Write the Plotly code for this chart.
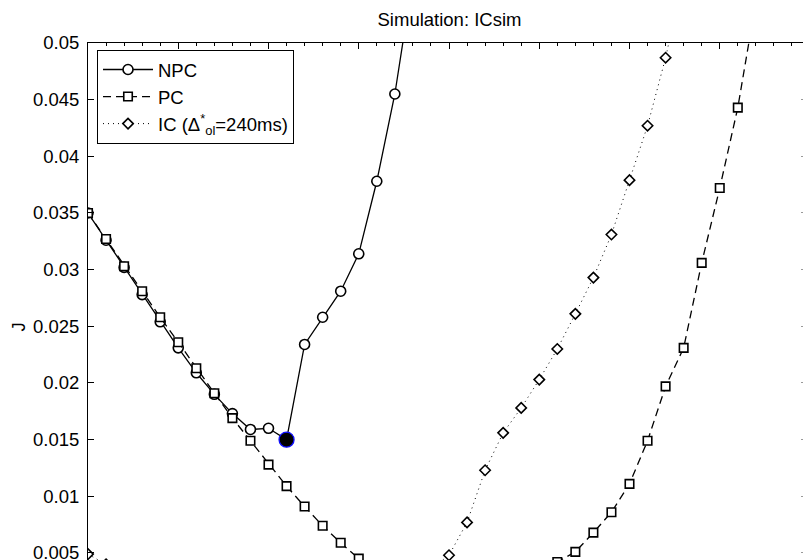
import plotly.graph_objects as go

# x positions (ms), step 20
NPC_J = [0.0350, 0.0326, 0.0302, 0.0278, 0.0254, 0.0231, 0.0209, 0.0190, 0.0173, 0.0159,
         0.0160, 0.0150, 0.0234, 0.0258, 0.0281, 0.0314, 0.0378, 0.0455, 0.0562, 0.0660]
PC_J = [0.0350, 0.0327, 0.0303, 0.0281, 0.0258, 0.0236, 0.0213, 0.0191, 0.0169, 0.0149,
        0.0128, 0.0109, 0.0091, 0.0074, 0.0059, 0.0045, 0.0035, 0.0028, 0.0023, 0.0019,
        0.0017, 0.0016, 0.0017, 0.0020, 0.0025, 0.0033, 0.0042, 0.0051, 0.0068, 0.0086,
        0.0111, 0.0149, 0.0197, 0.0231, 0.0306, 0.0372, 0.0443, 0.0533, 0.0630]
IC_J = [0.0049, 0.0040, 0.0033, 0.0029, 0.0026, 0.0024, 0.0022, 0.0021, 0.0020, 0.0019,
        0.0019, 0.0019, 0.0020, 0.0021, 0.0022, 0.0024, 0.0026, 0.0029, 0.0032, 0.0036,
        0.0048, 0.0077, 0.0123, 0.0156, 0.0178, 0.0203, 0.0230, 0.0261, 0.0293, 0.0331,
        0.0379, 0.0427, 0.0487, 0.0560]
STEP = 20
NPC_X = [i * STEP for i in range(len(NPC_J))]
PC_X = [i * STEP for i in range(len(PC_J))]
IC_X = [i * STEP for i in range(len(IC_J))]
BEST_IDX = 11  # highlighted NPC point

Y_TICKS = [0.05, 0.045, 0.04, 0.035, 0.03, 0.025, 0.02, 0.015, 0.01, 0.005]
Y_TICKTEXT = ["0.05", "0.045", "0.04", "0.035", "0.03", "0.025", "0.02", "0.015", "0.01", "0.005"]

FONT = "Liberation Sans, Arial, Helvetica, sans-serif"
FS = 18.5

fig = go.Figure()
fig.add_trace(go.Scatter(
    x=NPC_X, y=NPC_J, name="NPC", mode="lines+markers",
    line=dict(color="black", width=1.3),
    marker=dict(symbol="circle", size=10, color="white", line=dict(color="black", width=1.6)),
))
fig.add_trace(go.Scatter(
    x=PC_X, y=PC_J, name="PC", mode="lines+markers",
    line=dict(color="black", width=1.3, dash="8px,5px"),
    marker=dict(symbol="square", size=8.5, color="white", line=dict(color="black", width=1.6)),
))
fig.add_trace(go.Scatter(
    x=IC_X, y=IC_J, name="IC (Δ<sup>*</sup><sub>ol</sub>=240ms)", mode="lines+markers",
    line=dict(color="black", width=1, dash="1px,4px"),
    marker=dict(symbol="diamond", size=8, color="white", line=dict(color="black", width=1.6)),
))
fig.add_trace(go.Scatter(
    x=[NPC_X[BEST_IDX]], y=[NPC_J[BEST_IDX]], mode="markers", showlegend=False,
    marker=dict(symbol="circle", size=15, color="black", line=dict(color="#1010ff", width=1.3)),
))
# dummy trace to show right-side tick marks
fig.add_trace(go.Scatter(x=[None], y=[None], yaxis="y2", showlegend=False, hoverinfo="skip"))

W, H = 803, 560
L, T = 88, 43
PX_PER_UNIT = 0.9025
y_bottom = 0.05 - (H - T) / 11333.0

fig.update_layout(
    width=W, height=H,
    margin=dict(l=L, r=0, t=T, b=0, pad=0, autoexpand=False),
    paper_bgcolor="white", plot_bgcolor="white",
    font=dict(family=FONT, size=FS, color="black"),
    title=dict(text="Simulation: ICsim", x=449.5 / W, xanchor="center", xref="container",
               y=1 - 20 / H, yanchor="middle", yref="container",
               font=dict(family=FONT, size=FS, color="black")),
    showlegend=True,
    legend=dict(x=0.0126, y=0.9865, xanchor="left", yanchor="top",
                bgcolor="white", bordercolor="black", borderwidth=1,
                font=dict(family=FONT, size=FS, color="black"),
                itemwidth=50, tracegroupgap=0),
    xaxis=dict(range=[0, (W - L) / PX_PER_UNIT], side="top", automargin=False,
               showline=True, linecolor="black", linewidth=1,
               ticks="inside", ticklen=6, tickwidth=1, tickcolor="black",
               tick0=0, dtick=100, showticklabels=False,
               minor=dict(dtick=20, tick0=0, ticks="inside", ticklen=3, tickwidth=1,
                          tickcolor="black", showgrid=False),
               showgrid=False, zeroline=False),
    yaxis=dict(range=[y_bottom, 0.05], tickvals=Y_TICKS, ticktext=Y_TICKTEXT,
               automargin=False,
               showline=True, linecolor="black", linewidth=1,
               ticks="inside", ticklen=6, tickwidth=1, tickcolor="black",
               ticklabelstandoff=4, ticklabeloverflow="allow",
               tickfont=dict(family=FONT, size=FS, color="black"),
               showgrid=False, zeroline=False),
    yaxis2=dict(overlaying="y", side="right", matches="y", range=[y_bottom, 0.05],
                automargin=False,
                tickvals=Y_TICKS, showticklabels=False,
                ticks="inside", ticklen=2, tickwidth=1, tickcolor="#999999",
                showline=False, showgrid=False, zeroline=False),
    annotations=[dict(text="J", xref="paper", yref="paper",
                      x=(17.5 - L) / (W - L), y=(H - 327) / (H - T),
                      xanchor="center", yanchor="middle", textangle=-90, showarrow=False,
                      font=dict(family=FONT, size=FS, color="black"))],
)

fig.write_html("out.html")
